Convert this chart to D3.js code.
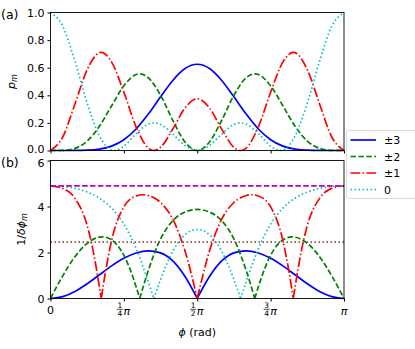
<!DOCTYPE html>
<html>
<head>
<meta charset="utf-8">
<script src="https://cdn.jsdelivr.net/npm/d3@7"></script>
<style>
  body { margin: 0; background: #fff; }
  text { font-family: "DejaVu Sans", sans-serif; }
</style>
</head>
<body>
<div id="chart"></div>
<script>
// phi in units of pi
const probM3 = [[0,0],[.0417,0],[.0833,.0002],[.125,.0020],[.1667,.0098],[.2083,.0318],[.25,.0781],[.2917,.1558],[.3333,.2637],[.375,.3887],[.4167,.5076],[.4583,.5936],[.5,.625],[.5417,.5936],[.5833,.5076],[.625,.3887],[.6667,.2637],[.7083,.1558],[.75,.0781],[.7917,.0318],[.8333,.0098],[.875,.0020],[.9167,.0002],[.9583,0],[1,0]];
const probM2 = [[0,0],[.0417,.0011],[.0833,.0157],[.125,.0687],[.1667,.1758],[.2083,.3242],[.25,.4688],[.2917,.5506],[.3041,.5556],[.3333,.5273],[.375,.4001],[.4167,.2187],[.4583,.0617],[.5,0],[.5417,.0617],[.5833,.2187],[.625,.4001],[.6667,.5273],[.6959,.5556],[.7083,.5506],[.75,.4688],[.7917,.3242],[.8333,.1758],[.875,.0687],[.9167,.0157],[.9583,.0011],[1,0]];
const probM1 = [[0,0],[.0417,.0979],[.0833,.3374],[.125,.5864],[.1667,.7090],[.1728,.7111],[.2083,.6406],[.25,.4219],[.2917,.1717],[.3333,.0176],[.3524,0],[.375,.0230],[.4167,.1548],[.4583,.3085],[.5,.375],[.5417,.3085],[.5833,.1548],[.625,.0230],[.6476,0],[.6667,.0176],[.7083,.1717],[.75,.4219],[.7917,.6406],[.8272,.7111],[.8333,.7090],[.875,.5864],[.9167,.3374],[.9583,.0979],[1,0]];
const probM0 = [[0,1],[.0417,.9010],[.0833,.6467],[.125,.3430],[.1667,.1055],[.2083,.0034],[.2180,0],[.25,.0313],[.2917,.1219],[.3333,.1914],[.3524,.2],[.375,.1883],[.4167,.1190],[.4583,.0362],[.5,0],[.5417,.0362],[.5833,.1190],[.625,.1883],[.6476,.2],[.6667,.1914],[.7083,.1219],[.75,.0313],[.7820,0],[.7917,.0034],[.8333,.1055],[.875,.3430],[.9167,.6467],[.9583,.9010],[1,1]];

const invDphiM3 = [[0,0],[.0417,.0801],[.0833,.3070],[.125,.6424],[.1667,1.0320],[.2083,1.4173],[.25,1.7467],[.2917,1.9781],[.3333,2.0730],[.375,1.9817],[.4167,1.6324],[.4583,.9547],[.5,0],[.5417,.9547],[.5833,1.6324],[.625,1.9817],[.6667,2.0730],[.7083,1.9781],[.75,1.7467],[.7917,1.4173],[.8333,1.0320],[.875,.6424],[.9167,.3070],[.9583,.0801],[1,0]];
const invDphiM2 = [[0,0],[.0417,.9858],[.0833,1.8177],[.125,2.3968],[.1667,2.6663],[.1778,2.6774],[.2083,2.5474],[.25,1.8787],[.2708,1.2798],[.2917,.5123],[.3041,0],[.3333,1.2197],[.375,2.5901],[.4167,3.3817],[.4583,3.7615],[.5,3.8730],[.5417,3.7615],[.5833,3.3817],[.625,2.5901],[.6667,1.2197],[.6959,0],[.7083,.5123],[.7292,1.2798],[.75,1.8787],[.7917,2.5474],[.8222,2.6774],[.8333,2.6663],[.875,2.3968],[.9167,1.8177],[.9583,.9858],[1,0]];
const invDphiM1 = [[0,4.8990],[.0417,4.7871],[.0833,4.3531],[.125,3.1728],[.1458,2.0374],[.1667,.4915],[.1728,0],[.1875,1.1684],[.2083,2.5267],[.25,3.9865],[.2917,4.4575],[.3139,4.5110],[.3333,4.4792],[.3524,4.3818],[.375,4.1741],[.4167,3.4462],[.4583,2.0656],[.5,0],[.5417,2.0656],[.5833,3.4462],[.625,4.1741],[.6476,4.3818],[.6667,4.4792],[.6861,4.5110],[.7083,4.4575],[.75,3.9865],[.7917,2.5267],[.8125,1.1684],[.8272,0],[.8333,.4915],[.8542,2.0374],[.875,3.1728],[.9167,4.3531],[.9583,4.7871],[1,4.8990]];
const invDphiM0 = [[0,4.8990],[.0417,4.8719],[.0833,4.7874],[.125,4.6282],[.1667,4.3614],[.2083,3.9278],[.25,3.2329],[.2917,2.1664],[.3333,.7223],[.3524,0],[.375,.8237],[.4167,2.0532],[.4583,2.7715],[.5,3.0],[.5417,2.7715],[.5833,2.0532],[.625,.8237],[.6476,0],[.6667,.7223],[.7083,2.1664],[.75,3.2329],[.7917,3.9278],[.8333,4.3614],[.875,4.6282],[.9167,4.7874],[.9583,4.8719],[1,4.8990]];

const heisenbergLevel = 4.899;
const sqlLevel = 2.449;

const legendLabels = ['±3', '±2', '±1', '0'];
const xTicks = [0, 0.25, 0.5, 0.75, 1];
const xTickLabels = ['0', '1/4', '1/2', '3/4', 'π'];
const yTicksA = [0, 0.2, 0.4, 0.6, 0.8, 1.0];
const yTicksB = [0, 2, 4, 6];

const styles = [
	{ color: '#0000ff', dash: null },
	{ color: '#008000', dash: '5.5,2.4' },
	{ color: '#ff0000', dash: '9.6,2.4,1.5,2.4' },
	{ color: '#00bfbf', dash: '1.5,2.5' }
];

const width = 415, height = 349;
const left = 50.5, right = 344;
const lw = 1.7;

const svg = d3.select('#chart').append('svg')
	.attr('width', width)
	.attr('height', height);

const x = d3.scaleLinear().domain([0, 1]).range([left, right]);
const ya = d3.scaleLinear().domain([0, 1]).range([150.5, 12.5]);
const yb = d3.scaleLinear().domain([0, 6]).range([298.5, 160.5]);

// split at interior zeros so the cusps stay sharp
function segments(pts) {
	const out = [];
	let cur = [];
	pts.forEach((p, i) => {
		cur.push(p);
		if (p[1] === 0 && i > 0 && i < pts.length - 1) {
			out.push(cur);
			cur = [p];
		}
	});
	out.push(cur);
	return out;
}

function panel(y, ticks, fmt, series, splitCusps) {
	const g = svg.append('g');

	g.append('g')
		.attr('transform', `translate(${left},0)`)
		.call(d3.axisLeft(y).tickValues(ticks).tickFormat(fmt).tickSize(3).tickPadding(3))
		.call(a => a.select('.domain').remove())
		.call(a => a.selectAll('text').attr('font-size', '11px').attr('fill', '#000')
			.attr('font-family', '"DejaVu Sans", sans-serif'));

	g.append('g')
		.attr('transform', `translate(0,${y.range()[0]})`)
		.call(d3.axisBottom(x).tickValues(xTicks).tickFormat('').tickSize(3))
		.call(a => a.select('.domain').remove());

	const line = d3.line()
		.x(d => x(d[0]))
		.y(d => y(d[1]))
		.curve(d3.curveMonotoneX);

	series.forEach((s, i) => {
		const parts = splitCusps ? segments(s) : [s];
		g.append('path')
			.attr('d', parts.map(p => line(p)).join(''))
			.attr('fill', 'none')
			.attr('stroke', styles[i].color)
			.attr('stroke-width', lw)
			.attr('stroke-dasharray', styles[i].dash);
	});

	return g;
}

const ga = panel(ya, yTicksA, d3.format('.1f'), [probM3, probM2, probM1, probM0], false);
const gb = panel(yb, yTicksB, d3.format('d'), [invDphiM3, invDphiM2, invDphiM1, invDphiM0], true);

// the two labels where the panels meet sit a bit apart
ga.selectAll('.tick text').filter(d => d === 0).attr('dy', '0.2em');
gb.selectAll('.tick text').filter(d => d === 6).attr('dy', '0.55em');

gb.append('line')
	.attr('x1', x(0)).attr('x2', x(1))
	.attr('y1', yb(heisenbergLevel)).attr('y2', yb(heisenbergLevel))
	.attr('stroke', '#bf00bf').attr('stroke-width', lw)
	.attr('stroke-dasharray', '5.5,2.4');
gb.append('line')
	.attr('x1', x(0)).attr('x2', x(1))
	.attr('y1', yb(sqlLevel)).attr('y2', yb(sqlLevel))
	.attr('stroke', '#8c564b').attr('stroke-width', lw)
	.attr('stroke-dasharray', '1.5,2.5');

// frames
[ya, yb].forEach(y => {
	svg.append('rect')
		.attr('x', left).attr('y', y.range()[1])
		.attr('width', right - left).attr('height', y.range()[0] - y.range()[1])
		.attr('fill', 'none').attr('stroke', '#000').attr('stroke-width', 0.9);
});

// x tick labels for panel b
const xl = svg.append('g');
xTicks.forEach((t, i) => {
	const lab = xTickLabels[i];
	const cx = x(t);
	if (lab.includes('/')) {
		const [num, den] = lab.split('/');
		xl.append('text').attr('x', cx - 4).attr('y', 307.5)
			.attr('text-anchor', 'middle').attr('font-size', '7.5px').text(num);
		xl.append('line').attr('x1', cx - 7).attr('x2', cx - 1)
			.attr('y1', 309.3).attr('y2', 309.3)
			.attr('stroke', '#000').attr('stroke-width', 0.7);
		xl.append('text').attr('x', cx - 4).attr('y', 316)
			.attr('text-anchor', 'middle').attr('font-size', '7.5px').text(den);
		xl.append('text').attr('x', cx - 0.5).attr('y', 314.5)
			.attr('font-size', '11px').attr('font-style', 'italic').text('π');
	} else {
		xl.append('text').attr('x', cx).attr('y', lab === 'π' ? 314.5 : 313.5)
			.attr('text-anchor', 'middle').attr('font-size', '11px')
			.attr('font-style', lab === 'π' ? 'italic' : 'normal').text(lab);
	}
});

// axis labels
const xlab = svg.append('text')
	.attr('x', (left + right) / 2).attr('y', 336)
	.attr('text-anchor', 'middle').attr('font-size', '11px');
xlab.append('tspan').attr('font-style', 'italic').text('ϕ');
xlab.append('tspan').text(' (rad)');

const ylabA = svg.append('text')
	.attr('transform', `translate(15,${(ya.range()[0] + ya.range()[1]) / 2}) rotate(-90)`)
	.attr('text-anchor', 'middle').attr('font-size', '11px');
ylabA.append('tspan').attr('font-style', 'italic').text('p');
ylabA.append('tspan').attr('font-style', 'italic').attr('font-size', '8px').attr('dy', 2).text('m');

const ylabB = svg.append('text')
	.attr('transform', `translate(25,${(yb.range()[0] + yb.range()[1]) / 2}) rotate(-90)`)
	.attr('text-anchor', 'middle').attr('font-size', '11px');
ylabB.append('tspan').text('1/');
ylabB.append('tspan').attr('font-style', 'italic').text('δϕ');
ylabB.append('tspan').attr('font-style', 'italic').attr('font-size', '8px').attr('dy', 2).text('m');

svg.append('text').attr('x', 1).attr('y', 19).attr('font-size', '12.5px').text('(a)');
svg.append('text').attr('x', 1).attr('y', 167).attr('font-size', '12.5px').text('(b)');

// legend
const lg = svg.append('g');
lg.append('rect')
	.attr('x', 346.5).attr('y', 130.5).attr('width', 80).attr('height', 68)
	.attr('rx', 2.5).attr('fill', '#fff').attr('fill-opacity', 0.8)
	.attr('stroke', '#d0d0d0').attr('stroke-width', 0.8);
legendLabels.forEach((lab, i) => {
	const yy = 140 + i * 16.5;
	lg.append('line')
		.attr('x1', 350.5).attr('x2', 376).attr('y1', yy).attr('y2', yy)
		.attr('stroke', styles[i].color).attr('stroke-width', lw)
		.attr('stroke-dasharray', styles[i].dash);
	lg.append('text').attr('x', 384).attr('y', yy + 4)
		.attr('font-size', '11px').text(lab);
});
</script>
</body>
</html>
